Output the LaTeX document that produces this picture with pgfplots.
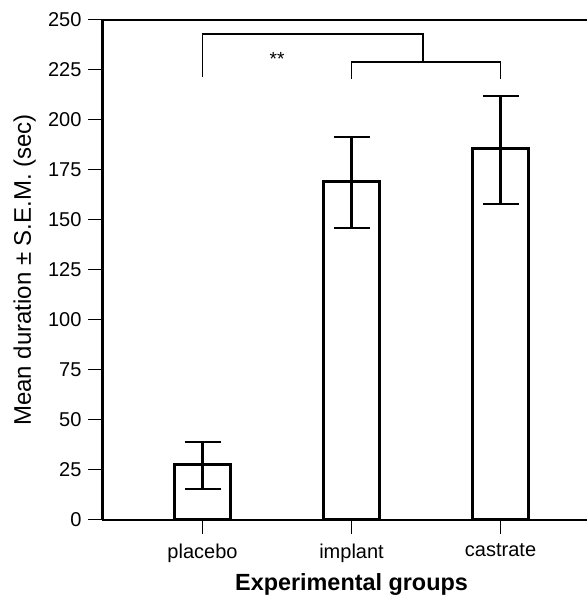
\documentclass[border=0pt]{standalone}
\usepackage{fontspec}
\setmainfont{Liberation Sans}
\usepackage{pgfplots}
\pgfplotsset{compat=1.18}

\begin{document}
\begin{tikzpicture}
\begin{axis}[name=ax,
  scale only axis, width=242.25pt, height=250pt,
  xmin=-0.671, xmax=2.58, ymin=0, ymax=250,
  axis x line*=box, axis y line*=left,
  axis line style={line width=1.35pt},
  xtick={0,1,2}, xticklabels={placebo,implant,castrate},
  ytick={0,25,...,250},
  xtick pos=left,
  tick align=outside, major tick length=7pt,
  tick style={line width=0.5pt, black},
  ticklabel style={font=\fontsize{10}{12}\selectfont},
  xticklabel style={yshift=-1.5pt},
  /pgf/number format/assume math mode=true,
  xlabel={Experimental groups},
  ylabel={Mean duration ± S.E.M. (sec)},
  xlabel style={font=\fontsize{11.7}{14}\selectfont\bfseries,
    at={(axis description cs:0.514,-0.14)}, anchor=base},
  ylabel style={font=\fontsize{12}{14}\selectfont,
    at={(axis description cs:-0.148,0.5)}, anchor=base},
  clip=false]

% bars with asymmetric S.E.M.
\addplot[ybar, bar width=0.375, fill=white, draw=black, line width=1.5pt,
  error bars/.cd, y dir=both, y explicit,
  error bar style={line width=1.3pt},
  error mark options={rotate=90, mark size=9pt, line width=1.3pt}]
coordinates {
  (0,27.5)  += (0,11.5) -= (0,12)
  (1,169)   += (0,22.5) -= (0,23)
  (2,185.5) += (0,26.5) -= (0,27.5)};

% significance brackets
\addplot[black, line width=0.85pt, sharp plot, mark=none]
  coordinates {(0,221.5) (0,243) (1.478,243) (1.478,229)};
\addplot[black, line width=0.85pt, sharp plot, mark=none]
  coordinates {(1,220.5) (1,229) (2,229) (2,220.5)};
\node[font=\fontsize{9.5}{10}\selectfont, anchor=base] at (axis cs:0.5,227.3) {**};
\end{axis}
\pgfresetboundingbox
\path ([xshift=-51.25pt,yshift=-39pt]ax.south west) rectangle ([yshift=10pt]ax.north east);
\end{tikzpicture}
\end{document}
